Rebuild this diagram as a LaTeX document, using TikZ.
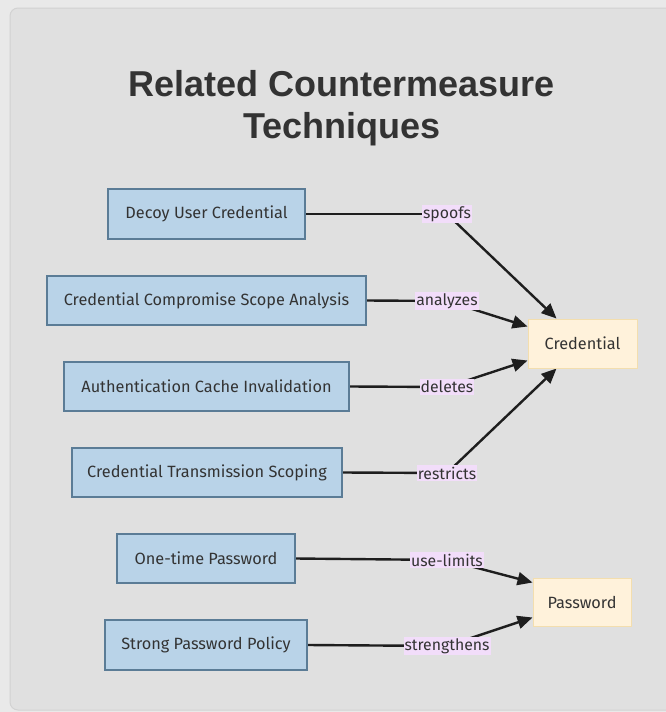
\documentclass[tikz,border=0pt]{standalone}
\usepackage{fontspec}
\setmainfont{Fira Sans}
\newfontfamily\titlefont{Liberation Sans}
\usetikzlibrary{arrows.meta,calc}
\pgfdeclarelayer{bg}
\pgfdeclarelayer{edges}
\pgfsetlayers{bg,edges,main}
\definecolor{pagebg}{HTML}{E9E9E9}
\definecolor{panelbg}{HTML}{E0E0E0}
\definecolor{panelline}{HTML}{D2D2D2}
\definecolor{techfill}{HTML}{B9D3E8}
\definecolor{techline}{HTML}{5B7C96}
\definecolor{objfill}{HTML}{FFF2DB}
\definecolor{objline}{HTML}{F3DEAE}
\definecolor{lblfill}{HTML}{F2DDFA}
\definecolor{ink}{HTML}{333333}
\definecolor{wire}{HTML}{1E1E1E}
\tikzset{
  x=1pt, y=-1pt,
  tech/.style={draw=techline, line width=1.6pt, fill=techfill, text=ink,
    font=\fontsize{16.3}{19}\selectfont, inner sep=0pt, anchor=center},
  obj/.style={draw=objline, line width=1pt, fill=objfill, text=ink,
    font=\fontsize{16.3}{19}\selectfont, inner sep=0pt, anchor=center},
  rel/.style={fill=lblfill, text=ink, font=\fontsize{15.8}{18}\selectfont,
    inner xsep=1pt, inner ysep=1.5pt},
  link/.style={draw=wire, line width=2.4pt},
  arrowlink/.style={link, -{Triangle[length=15pt,width=13pt]}},
}
\begin{document}
\begin{tikzpicture}
\useasboundingbox (0,0) rectangle (666,712);

% panel
\begin{pgfonlayer}{bg}
  \fill[pagebg] (0,0) rectangle (666,712);
  \draw[panelline, fill=panelbg, line width=1pt, rounded corners=8pt]
    (10,8) rectangle (690,710);
\end{pgfonlayer}

% title
\node[text=ink, font=\titlefont\bfseries\fontsize{36}{42}\selectfont, align=center]
  (title) at (342,108) {Related Countermeasure\\Techniques};

% techniques
\node[tech, minimum width=197pt, minimum height=50pt] (dec)  at (206.5,214)   {Decoy User Credential};
\node[tech, minimum width=319pt, minimum height=49pt] (ccsa) at (206.5,300.5) {Credential Compromise Scope Analysis};
\node[tech, minimum width=285pt, minimum height=49pt] (aci)  at (206.5,386.5) {Authentication Cache Invalidation};
\node[tech, minimum width=270pt, minimum height=49pt] (cts)  at (207,472.5)   {Credential Transmission Scoping};
\node[tech, minimum width=178pt, minimum height=49pt] (otp)  at (206,558.5)   {One-time Password};
\node[tech, minimum width=202pt, minimum height=50pt] (spp)  at (206,645)     {Strong Password Policy};

% targets
\node[obj, minimum width=109pt, minimum height=49pt] (cred) at (582.5,343.5) {Credential};
\node[obj, minimum width=98pt,  minimum height=48pt] (pwd)  at (582,602)     {Password};

% relation labels
\node[rel] (l1) at (447,214) {spoofs};
\node[rel] (l2) at (447,301) {analyzes};
\node[rel] (l3) at (447,387) {deletes};
\node[rel] (l4) at (447,473) {restricts};
\node[rel] (l5) at (447,560) {use-limits};
\node[rel] (l6) at (447,646) {strengthens};

% connectors
\begin{pgfonlayer}{edges}
  \draw[link] (dec.east) -- (l1.center);
  \draw[arrowlink] (l1.center) -- ($(cred.north west)+(29,0)$);
  \draw[link] (ccsa.east) -- (l2.center);
  \draw[arrowlink] (l2.center) -- ($(cred.north west)+(0,8)$);
  \draw[link] (aci.east) -- (l3.center);
  \draw[arrowlink] (l3.center) -- ($(cred.south west)+(0,-8)$);
  \draw[link] (cts.east) -- (l4.center);
  \draw[arrowlink] (l4.center) -- ($(cred.south west)+(29,0)$);
  \draw[link] (otp.east) -- (l5.center);
  \draw[arrowlink] (l5.center) -- ($(pwd.north west)+(0,5)$);
  \draw[link] (spp.east) -- (l6.center);
  \draw[arrowlink] (l6.center) -- ($(pwd.south west)+(0,-9)$);
\end{pgfonlayer}
\end{tikzpicture}
\end{document}
